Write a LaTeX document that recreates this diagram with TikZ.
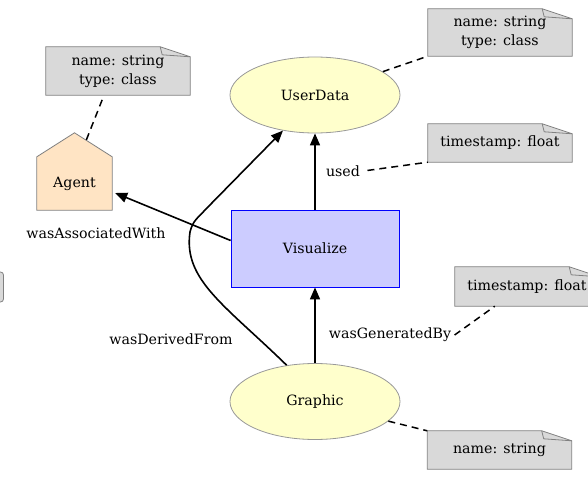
\documentclass[tikz,border=0pt]{standalone}
\usepackage{fontspec}
\setmainfont{DejaVu Serif}
\usepackage{tikz}
\usetikzlibrary{arrows.meta, shapes.geometric, backgrounds, positioning}
\colorlet{note edge}{black!50}
\colorlet{note area}{black!15}
\colorlet{entity edge}{black!40}
\definecolor{entity area}{RGB}{255,255,204}
\definecolor{agent area}{RGB}{255,228,196}
\definecolor{activity area}{RGB}{204,204,255}
\tikzset{
  notebox/.style={fill=note area, draw=note edge, line width=0.8pt},
  notefold/.style={draw=note edge, line width=0.8pt},
  note/.style={align=center, minimum width=144pt, minimum height=38pt, inner sep=0pt},
  agentshape/.style={fill=agent area, draw=note edge, line width=0.8pt}
}

\begin{document}
\begin{tikzpicture}[x=1pt, y=-1pt, font=\fontsize{14.2}{19}\selectfont]
	\tikzstyle{arrowline}=[draw, line width=1.6pt, -{Triangle[length=12pt,width=10pt]}]
	\tikzstyle{dashline}=[draw, line width=1.5pt, dash pattern=on 7pt off 5pt]
	\tikzstyle{entity}=[ellipse, fill=entity area, draw=entity edge, line width=0.8pt, minimum width=170pt, minimum height=76pt, inner sep=0pt]
	\tikzstyle{activity}=[rectangle, fill=activity area, draw=blue, line width=0.8pt, minimum width=168pt, minimum height=77pt]
	\tikzstyle{agentbody}=[minimum width=75pt, minimum height=53pt, inner sep=0pt]

	\useasboundingbox (0,0) rectangle (588,478);

	% main nodes
	\node[entity] (userdata) at (315,95) {UserData};
	\node[activity] (visualize) at (315,248.5) {Visualize};
	\node[entity] (graphic) at (315,401.5) {Graphic};
	\node[agentbody] (agent) at (74.5,183.5) {Agent};

	% notes
	\node[note, minimum height=48pt] (agentnote) at (118,71) {name: string\\type: class};
	\node[note, minimum height=47pt] (userdatanote) at (500,32.5) {name: string\\type: class};
	\node[note] (usednote) at (500,143) {timestamp: float};
	\node[note, minimum height=39pt] (gennote) at (527,286.5) {timestamp: float};
	\node[note] (graphicnote) at (499.5,450) {name: string};

	% edge labels
	\node (usedlbl) at (343,171) {used};
	\node (genlbl) at (390,335) {wasGeneratedBy};
	\node (derivedlbl) at (171,339) {wasDerivedFrom};
	\node (assoclbl) at (96,233) {wasAssociatedWith};

	\begin{scope}[on background layer]
		\path[agentshape] (agent.south west) -- (agent.north west) -- ([yshift=24pt]agent.north)
			-- (agent.north east) -- (agent.south east) -- cycle;
		\foreach \n in {agentnote,userdatanote,usednote,gennote,graphicnote} {
			\path[notebox] (\n.south west) -- (\n.north west) -- ([xshift=-30pt]\n.north east)
				-- ([yshift=-10pt]\n.north east) -- (\n.south east) -- cycle;
			\path[notefold] ([xshift=-30pt]\n.north east) -- ++(2pt,-8pt) -- ([yshift=-10pt]\n.north east);
		}
		\path[notebox, rounded corners=3pt] (-20,272) rectangle (3.5,302);
	\end{scope}

	\path[arrowline] (visualize) -- (userdata);
	\path[arrowline] (graphic) -- (visualize);
	\path[arrowline] ([yshift=8pt]visualize.west) -- ([xshift=3pt,yshift=-9.5pt]agent.east);
	\path[arrowline] (graphic.128) .. controls (225,305) and (183,280) .. (190,232)
		.. controls (193,220) and (198,218) .. (205,210) -- (userdata.-132);

	\path[dashline, shorten <=5pt] ([xshift=-14pt]agentnote.south) -- ([xshift=11.5pt,yshift=16pt]agent.north);
	\path[dashline] (userdata.19) -- (userdatanote.south west);
	\path[dashline, shorten <=4pt] (usedlbl.east) -- (usednote.south west);
	\path[dashline] (genlbl.east) -- ([xshift=40pt]gennote.south west);
	\path[dashline] (graphic.-15) -- (graphicnote.north west);
\end{tikzpicture}
\end{document}
